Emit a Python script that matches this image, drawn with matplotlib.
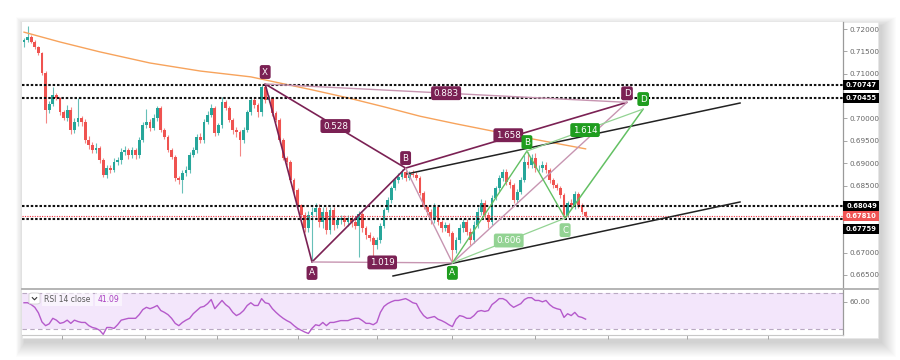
import matplotlib
matplotlib.use("Agg")
import matplotlib.pyplot as plt
import matplotlib.transforms as mtransforms
from matplotlib.patches import Rectangle, FancyBboxPatch
from matplotlib.lines import Line2D
import numpy as np

# ---------------- data ----------------
first_open = 0.7172
closes = [
    0.7175, 0.7182, 0.7171, 0.7160, 0.7146, 0.7102, 0.7019, 0.7032, 0.7052, 0.7046,
    0.7014, 0.7001, 0.7019, 0.6974, 0.6992, 0.7001, 0.6992, 0.6952, 0.6941, 0.6929,
    0.6934, 0.6907, 0.6874, 0.6889, 0.6885, 0.6903, 0.6907, 0.6925, 0.6929, 0.6918,
    0.6929, 0.6918, 0.6952, 0.6985, 0.6992, 0.6979, 0.7001, 0.7023, 0.6974, 0.6959,
    0.6929, 0.6914, 0.6867, 0.6862, 0.6878, 0.6885, 0.6918, 0.6929, 0.6959, 0.6952,
    0.6992, 0.7008, 0.7023, 0.6967, 0.6985, 0.7037, 0.7023, 0.6997, 0.6974, 0.6970,
    0.6952, 0.6974, 0.7014, 0.7041, 0.7030, 0.7014, 0.7070, 0.7041, 0.7046, 0.7012,
    0.6997, 0.6952, 0.6912, 0.6903, 0.6862, 0.6840, 0.6806, 0.6784, 0.6755, 0.6784,
    0.6791, 0.6800, 0.6768, 0.6791, 0.6751, 0.6795, 0.6762, 0.6773, 0.6777, 0.6768,
    0.6777, 0.6768, 0.6760, 0.6786, 0.6755, 0.6739, 0.6733, 0.6717, 0.6728, 0.6760,
    0.6795, 0.6818, 0.6844, 0.6862, 0.6869, 0.6880, 0.6867, 0.6876, 0.6874, 0.6867,
    0.6833, 0.6802, 0.6791, 0.6773, 0.6802, 0.6768, 0.6755, 0.6762, 0.6744, 0.6706,
    0.6728, 0.6755, 0.6768, 0.6746, 0.6728, 0.6762, 0.6791, 0.6811, 0.6784, 0.6768,
    0.6822, 0.6844, 0.6867, 0.6880, 0.6858, 0.6851, 0.6818, 0.6836, 0.6862, 0.6903,
    0.6896, 0.6912, 0.6889, 0.6889, 0.6896, 0.6885, 0.6862, 0.6851, 0.6844, 0.6829,
    0.6784, 0.6811, 0.6806, 0.6831, 0.6806, 0.6791, 0.6781]
# wick extensions beyond the body, in pips (0.0001)
upper_wick_pips = [
    6, 25, 4, 5, 3, 3, 4, 8, 18, 5,
    3, 4, 10, 6, 8, 45, 5, 6, 8, 6,
    10, 5, 4, 8, 6, 8, 6, 8, 10, 6,
    8, 4, 6, 8, 30, 6, 8, 5, 4, 5,
    4, 6, 4, 4, 6, 8, 6, 8, 6, 8,
    6, 8, 10, 4, 5, 10, 5, 4, 4, 6,
    5, 6, 6, 6, 4, 4, 4, 6, 6, 3,
    4, 3, 4, 4, 3, 4, 4, 3, 6, 8,
    10, 12, 8, 10, 12, 8, 8, 6, 8, 8,
    6, 8, 6, 8, 4, 5, 6, 5, 6, 6,
    5, 6, 5, 6, 8, 6, 9, 6, 8, 6,
    4, 5, 4, 6, 8, 4, 5, 6, 4, 5,
    6, 8, 6, 6, 8, 8, 10, 8, 6, 6,
    6, 5, 6, 8, 6, 6, 4, 6, 6, 15,
    22, 8, 10, 6, 8, 6, 5, 4, 5, 4,
    4, 5, 8, 6, 5, 4, 3]
lower_wick_pips = [
    12, 4, 3, 4, 3, 4, 29, 6, 5, 4,
    6, 5, 6, 8, 6, 10, 8, 8, 10, 6,
    6, 6, 5, 8, 6, 5, 6, 8, 6, 8,
    6, 8, 6, 4, 6, 8, 5, 6, 4, 5,
    5, 4, 6, 8, 29, 6, 6, 5, 6, 8,
    6, 5, 5, 6, 5, 6, 5, 6, 8, 12,
    35, 6, 5, 6, 6, 10, 8, 6, 5, 6,
    5, 6, 5, 6, 5, 6, 5, 6, 8, 10,
    105, 12, 10, 12, 10, 10, 12, 8, 10, 8,
    8, 10, 8, 70, 8, 8, 6, 30, 8, 6,
    6, 5, 6, 5, 6, 5, 6, 5, 6, 5,
    4, 5, 6, 8, 6, 6, 8, 6, 8, 29,
    8, 6, 8, 6, 10, 6, 8, 6, 8, 12,
    6, 5, 6, 6, 6, 6, 8, 6, 6, 5,
    6, 6, 8, 6, 8, 6, 6, 6, 5, 6,
    7, 5, 6, 8, 6, 5, 4]

ma_idx = [0, 10, 21, 35, 49, 63, 70, 80, 90, 100, 110, 120, 130, 140, 150, 156]
ma_val = [0.7193, 0.7171, 0.7149, 0.7124, 0.7106, 0.7093, 0.7081, 0.7064,
          0.7046, 0.7026, 0.7005, 0.6988, 0.6972, 0.6956, 0.6941, 0.6932]

rsi = [59, 59, 57, 54, 48, 38, 34, 36, 42, 40,
       36.5, 37.5, 40, 36.5, 40, 38.5, 37.5, 37.5, 34, 32,
       31, 29, 24.5, 32, 32, 31, 35, 40, 41, 42,
       42, 42, 46, 51.5, 54, 52.5, 54, 56, 50.5, 48.5,
       46, 42, 36.5, 34, 37.5, 40, 42, 47, 50.5, 54,
       55, 58, 62.5, 52.5, 57, 61.5, 57, 54, 48.5, 45,
       47, 50.5, 56, 59, 56, 56, 63.5, 59, 58, 52.5,
       48.5, 45, 42, 39.5, 37.5, 34, 31, 29, 27, 25.5,
       31, 35, 34, 37.5, 34, 37.5, 37.5, 38.5, 39.5, 39.5,
       39.5, 41, 42, 42, 39.5, 36.5, 36.5, 35, 37.5, 48.5,
       55, 58, 60, 61.5, 61.5, 62.5, 63.5, 61.5, 59, 58,
       50.5, 45, 42, 43, 44, 41, 39.5, 37.5, 35, 33,
       41, 45, 44, 42, 42, 45, 49.5, 50.5, 49.5, 50.5,
       57, 60, 63.5, 63.5, 61.5, 57, 54, 56, 58, 62.5,
       64.5, 64.5, 61.5, 61.5, 60, 61.5, 57, 54, 52.5, 51.5,
       43, 47, 45, 48.5, 44, 43, 41.09]

level_lines = [0.70747, 0.70455, 0.68049, 0.67759]
last_price = 0.67810
price_ticks = [0.72, 0.715, 0.71, 0.705, 0.70, 0.695, 0.69, 0.685, 0.68, 0.675, 0.67, 0.665]
hidden_ticks = [0.705, 0.68, 0.675]   # covered by the price tags in the reference
time_ticks = [10.6, 33.6, 53.6, 76.1, 98, 118.9, 141.9, 162.2, 184.2, 206.7]

# XABCD (maroon) anchor points (bar index, price)
xabcd_names = ["X", "A", "B", "C", "D"]
xabcd_idx = [67, 80, 106, 119, 167.5]
xabcd_px = [0.7077, 0.6679, 0.6889, 0.6677, 0.7036]
xabcd_ratios = {("X", "B"): "0.528", ("A", "C"): "1.019", ("B", "D"): "1.658", ("X", "D"): "0.883"}
# ABCD (green)
abcd_names = ["A", "B", "C", "D"]
abcd_idx = [119, 139.7, 150.3, 172]
abcd_px = [0.6677, 0.6927, 0.6777, 0.7021]
abcd_ratios = {("A", "C"): "0.606", ("B", "D"): "1.614"}
# channel lines
chan_upper = ([106.4, 198.9], [0.6876, 0.70345])
chan_lower = ([102.5, 198.9], [0.66477, 0.68132])

# ---------------- figure ----------------
W, H = 900, 360
fig = plt.figure(figsize=(9, 3.6), dpi=100)
fig.patch.set_facecolor("white")


def fr(x0, y0, x1, y1):
    return [x0 / W, 1 - y1 / H, (x1 - x0) / W, (y1 - y0) / H]


# soft shadow around the screenshot panel (mostly right / bottom)
for k in range(1, 16):
    l, b, w, h = fr(22 - k * 0.6 + 3, 22 - k * 0.6 + 4, 878 + k + 3, 338 + k + 4)
    fig.patches.append(Rectangle((l, b), w, h, transform=fig.transFigure,
                                 fc="black", ec="none", alpha=0.011, zorder=-20))
l, b, w, h = fr(22, 22, 878, 338)
fig.patches.append(Rectangle((l, b), w, h, transform=fig.transFigure,
                             fc="white", ec="#e6e6e6", lw=0.5, zorder=-10))

ax = fig.add_axes(fr(22, 22, 843, 288))
ax2 = fig.add_axes(fr(22, 289, 843, 335))

n = len(closes)
idx = np.arange(n)
c = np.array(closes)
o = np.concatenate([[first_open], c[:-1]])
hi = np.maximum(o, c) + np.array(upper_wick_pips) * 1e-4
lo = np.minimum(o, c) - np.array(lower_wick_pips) * 1e-4
up = c >= o
UPC, DNC = "#26a69a", "#ef5350"
cols = np.where(up, UPC, DNC)

ax.vlines(idx, lo, hi, colors=cols, lw=0.8, alpha=0.7, zorder=2)
body_h = np.maximum(np.abs(c - o), 0.00009)
ax.bar(idx, body_h, bottom=np.minimum(o, c), width=0.74, color=cols, lw=0, zorder=2.1)

ax.set_xlim(-0.556, 227.5)
ax.set_ylim(0.66208, 0.72157)
ppx = (0.72157 - 0.66208) / 266.0

# moving average
ax.plot(ma_idx, ma_val, color="#f7a35c", lw=1.0, zorder=3)

# horizontal levels
for lv in level_lines:
    ax.axhline(lv, color="#111111", lw=1.5, ls=(0, (1.2, 0.9)), zorder=3)
ax.axhline(last_price, color="#f23645", lw=0.8, ls=(0, (1, 1.2)), zorder=3)

# channel lines
ax.plot(*chan_upper, color="#222222", lw=1.1, zorder=3.5)
ax.plot(*chan_lower, color="#222222", lw=1.1, zorder=3.5)

MAROON = "#7b2154"
MAROON_L = "#c795b1"
GREEN = "#1f9d1f"
GREEN_M = "#63c063"
GREEN_L = "#93d393"

mp = {nm: (xi, pi) for nm, xi, pi in zip(xabcd_names, xabcd_idx, xabcd_px)}
gp = {nm: (xi, pi) for nm, xi, pi in zip(abcd_names, abcd_idx, abcd_px)}


def seg(p1, p2, color, lw, z=4):
    ax.plot([p1[0], p2[0]], [p1[1], p2[1]], color=color, lw=lw, zorder=z,
            solid_capstyle="round")


# maroon pattern
seg(mp["X"], mp["A"], MAROON, 1.2)
seg(mp["A"], mp["B"], MAROON, 1.2)
seg(mp["X"], mp["B"], MAROON, 1.2)
seg(mp["B"], mp["D"], MAROON, 1.2)
seg(mp["B"], mp["C"], MAROON_L, 1.0)
seg(mp["C"], mp["D"], MAROON_L, 1.0)
seg(mp["A"], mp["C"], MAROON_L, 1.0)
seg(mp["X"], mp["D"], MAROON_L, 1.0)

# green pattern
seg(gp["A"], gp["B"], GREEN_M, 1.0)
seg(gp["B"], gp["C"], GREEN_M, 1.0)
seg(gp["C"], gp["D"], GREEN_M, 1.1)
seg(gp["A"], gp["C"], GREEN_L, 0.9)
seg(gp["B"], gp["D"], GREEN_L, 0.9)


def label(x, y, text, fc, dy_px=0, fs=6.3, z=6, dx_px=0):
    ax.annotate(text, xy=(x, y), xytext=(dx_px, -dy_px), textcoords="offset pixels",
                ha="center", va="center", color="white", fontsize=fs, zorder=z,
                bbox=dict(boxstyle="round,pad=0.28,rounding_size=0.25", fc=fc, ec="none"),
                annotation_clip=False)


for (a_, b_), txt in xabcd_ratios.items():
    xm = (mp[a_][0] + mp[b_][0]) / 2
    ym = (mp[a_][1] + mp[b_][1]) / 2
    # the B-D ratio box sits just left of the green "B" marker
    label(xm, ym, txt, MAROON, 0, dx_px=(-8 if txt == "1.658" else 0))
for (a_, b_), txt in abcd_ratios.items():
    xm = (gp[a_][0] + gp[b_][0]) / 2
    ym = (gp[a_][1] + gp[b_][1]) / 2
    label(xm, ym, txt, GREEN if txt == "1.614" else GREEN_L, 0, z=6.5)

label(*mp["X"], "X", MAROON, -12)
label(*mp["A"], "A", MAROON, 11)
label(*mp["B"], "B", MAROON, -10)
label(*mp["D"], "D", MAROON, -9)
label(*gp["A"], "A", GREEN, 10, z=7)
label(*gp["B"], "B", GREEN, -9, z=7)
label(*gp["C"], "C", GREEN_L, 12, z=7)
label(*gp["D"], "D", GREEN, -10, z=7)

# axes styling
for sp in ["top", "left", "bottom"]:
    ax.spines[sp].set_visible(False)
ax.spines["right"].set_color("#9a9a9a")
ax.spines["right"].set_linewidth(0.9)
ax.set_xticks([])
ax.yaxis.tick_right()
ax.set_yticks(price_ticks)
ax.set_yticklabels(["" if any(abs(t - h) < 1e-9 for h in hidden_ticks) else f"{t:.5f}"
                    for t in price_ticks])
ax.tick_params(axis="y", direction="out", length=3, width=0.6, color="#999999",
               labelsize=5.2, labelcolor="#666666", pad=2)

blend = mtransforms.blended_transform_factory(ax.transAxes, ax.transData)
tag_w = (879 - 843) / 821.0


def tag(price, fc, shift_px=0):
    yc = price - shift_px * ppx
    ax.add_patch(Rectangle((1.0, yc - 5 * ppx), tag_w, 10 * ppx, transform=blend,
                           fc=fc, ec="none", clip_on=False, zorder=20))
    ax.text(1.0 + tag_w / 2 + 0.5 / 821, yc, f"{price:.5f}", transform=blend,
            ha="center", va="center", color="white", fontsize=4.9, fontweight="bold",
            zorder=21, clip_on=False)


tag(level_lines[0], "#000000")
tag(level_lines[1], "#000000")
tag(level_lines[2], "#000000")
tag(last_price, "#f05454")
tag(level_lines[3], "#000000", shift_px=10.7)

# ---------------- RSI panel ----------------
ax2.set_xlim(-0.556, 227.5)
ax2.set_ylim(23.8, 74.0)
ax2.axhspan(30, 70, color="#f3e6fb", zorder=0, lw=0)
ax2.axhline(70, color="#b9a9c2", lw=0.8, ls=(0, (4, 3)), zorder=1)
ax2.axhline(30, color="#b9a9c2", lw=0.8, ls=(0, (4, 3)), zorder=1)
ax2.plot(idx, rsi, color="#b55acb", lw=1.0, zorder=3)
for sp in ["top", "left"]:
    ax2.spines[sp].set_visible(False)
ax2.spines["right"].set_color("#9a9a9a")
ax2.spines["right"].set_linewidth(0.9)
ax2.spines["bottom"].set_color("#c8c8c8")
ax2.yaxis.tick_right()
ax2.set_yticks([60])
ax2.set_yticklabels(["60.00"])
ax2.tick_params(axis="y", direction="out", length=3, width=0.6, color="#999999",
                labelsize=5.2, labelcolor="#666666", pad=2)
ax2.set_xticks(time_ticks)
ax2.set_xticklabels([])
ax2.tick_params(axis="x", direction="out", length=3, width=0.6, color="#999999")

# legend
l, b, w, h = fr(29, 293, 40, 304)
fig.patches.append(FancyBboxPatch((l, b), w, h, transform=fig.transFigure,
                                  boxstyle="round,pad=0,rounding_size=0.004",
                                  fc="white", ec="#d0d0d0", lw=0.6, zorder=30))
fig.lines.append(Line2D([32.3 / W, 34.5 / W, 36.7 / W],
                        [1 - 297.6 / H, 1 - 299.8 / H, 1 - 297.6 / H],
                        transform=fig.transFigure, color="#333333", lw=0.8, zorder=31))
fig.text(44.5 / W, 1 - 299 / H, "RSI 14 close", fontsize=5.5, color="#5a5a5a",
         va="center", ha="left", zorder=31,
         bbox=dict(boxstyle="square,pad=0.3", fc="white", ec="none", alpha=0.55))
fig.text(97.5 / W, 1 - 299 / H, "41.09", fontsize=5.5, color="#a93fc0",
         va="center", ha="left", zorder=31,
         bbox=dict(boxstyle="square,pad=0.3", fc="white", ec="none", alpha=0.55))

# separator between price and RSI panes
fig.lines.append(Line2D([22 / W, 878 / W], [1 - 288.5 / H, 1 - 288.5 / H],
                        transform=fig.transFigure, color="#b4b4b4", lw=1.4, zorder=5))

fig.savefig("out.png", dpi=100, facecolor="white")
